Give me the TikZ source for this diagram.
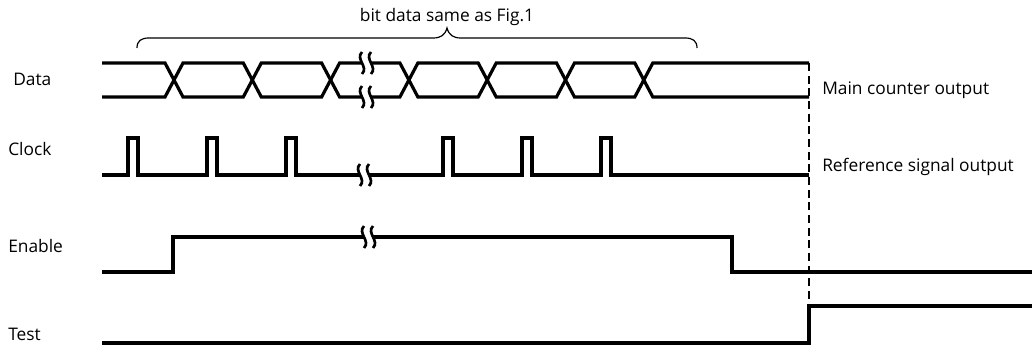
\documentclass[tikz,border=0pt]{standalone}
\usepackage{fontspec}
\setmainfont{Open Sans}
\begin{document}
\begin{tikzpicture}[x=0.75pt,y=0.75pt,yscale=-1,xscale=1,
  sig/.style={line width=2.4pt,line join=miter},
  lbl/.style={anchor=base west,inner sep=0pt,font=\fontsize{13}{15}\selectfont},
  brk/.pic={
    \fill[white] (-5,-11) .. controls (2,-4) and (-12,4) .. (-5,11) -- (4,11) .. controls (-3,4) and (11,-4) .. (4,-11) -- cycle;
    \draw[line width=2pt] (-5,-11) .. controls (2,-4) and (-12,4) .. (-5,11);
    \draw[line width=2pt] (4,-11) .. controls (11,-4) and (-3,4) .. (4,11);
  }]
\useasboundingbox (0,0) rectangle (1032,345);

% Text Node
\node[lbl] (lblData) at (13,86) {Data};
\node[lbl] (lblClock) at (8,156) {Clock};
\node[lbl] (lblEnable) at (8,253) {Enable};
\node[lbl] (lblTest) at (8,340) {Test};
\node[lbl] (lblMain) at (822,95) {Main counter output};
\node[lbl] (lblRef) at (822,172) {Reference signal output};
\node[lbl,anchor=base] (lblBits) at (447,22) {bit data same as Fig.1};

%Brace
\draw[line width=0.9pt] (137,48) .. controls (137,41) and (141,38) .. (149,38) -- (433,38) .. controls (441,38) and (445,35) .. (447,28) .. controls (449,35) and (453,38) .. (461,38) -- (685,38) .. controls (693,38) and (697,41) .. (697,48);

%Data bus
\draw[sig] (102,63) -- (165,63) -- (174,80) -- (165,97) -- (102,97);
\foreach \a/\b in {174/252.3,252.3/330.6,330.6/408.9,408.9/487.2,487.2/565.5,565.5/643.8}
  \draw[sig] (\a,80) -- (\a+9,63) -- (\b-9,63) -- (\b,80) -- (\b-9,97) -- (\a+9,97) -- cycle;
\draw[sig] (809,63) -- (652.8,63) -- (643.8,80) -- (652.8,97) -- (809,97);
\pic at (367,63) {brk};
\pic at (367,97) {brk};

%Clock
\draw[sig] (102,175)
  \foreach \p in {128,207,286,443,522,601} { -- (\p,175) -- (\p,138) -- (\p+10,138) -- (\p+10,175) }
  -- (809,175);
\pic at (365,175) {brk};

%Enable
\draw[sig] (102,272) -- (173,272) -- (173,237) -- (732,237) -- (732,272) -- (1032,272);
\pic at (369,237) {brk};

%Test
\coordinate (dtop) at (809,63);
\coordinate (trise) at (809,306);
\draw[sig] (102,343) -- (809,343) -- (trise) -- (1032,306);
\draw[line width=1.2pt,dash pattern=on 6pt off 3.5pt] (dtop) -- (trise);

\end{tikzpicture}
\end{document}
